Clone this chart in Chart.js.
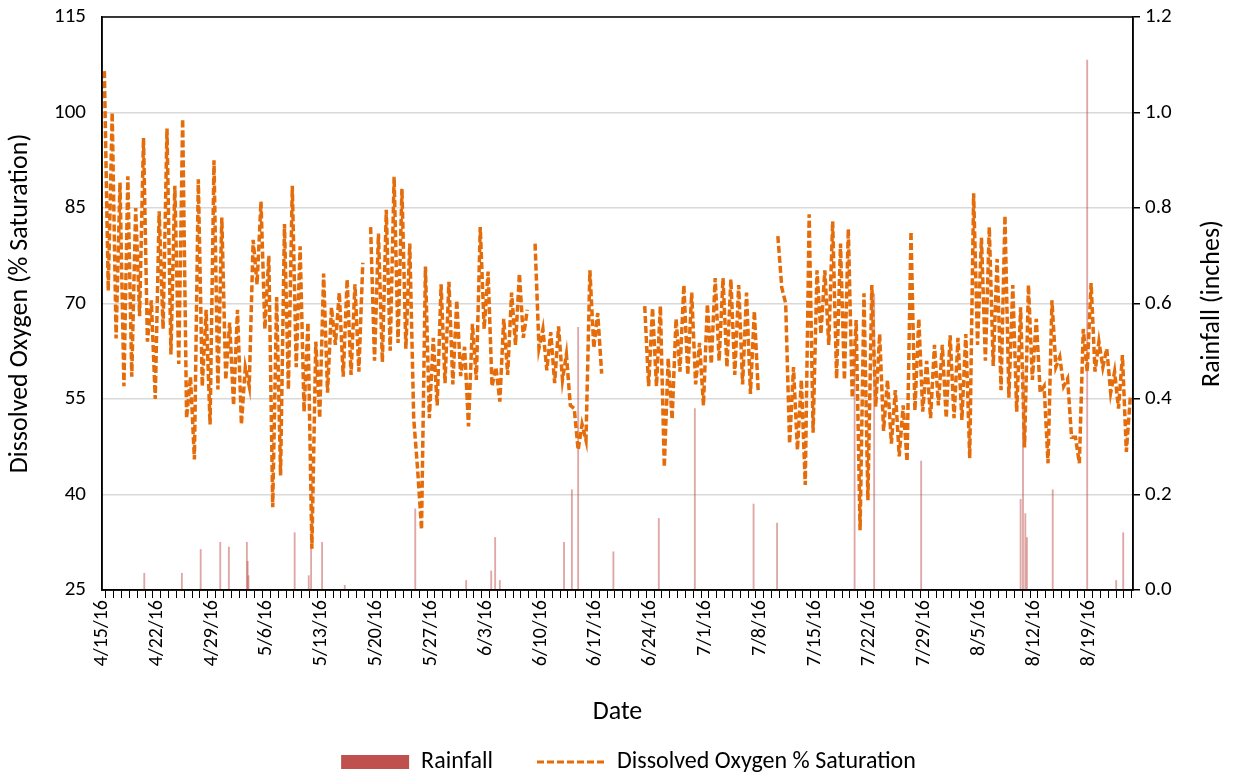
<!DOCTYPE html>
<html>
<head>
<meta charset="utf-8">
<script src="https://cdn.jsdelivr.net/npm/chart.js@4.4.0/dist/chart.umd.min.js"></script>
<style>
  html, body { margin: 0; padding: 0; background: #fff; }
  #wrap { width: 1233px; height: 778px; }
</style>
</head>
<body>
<div id="wrap"><canvas id="chart" width="1233" height="778"></canvas></div>
<script>
// Weekly date labels on the x axis (days counted from 4/15/16)
const dateLabels = ['4/15/16', '4/22/16', '4/29/16', '5/6/16', '5/13/16', '5/20/16', '5/27/16',
  '6/3/16', '6/10/16', '6/17/16', '6/24/16', '7/1/16', '7/8/16', '7/15/16', '7/22/16',
  '7/29/16', '8/5/16', '8/12/16', '8/19/16'];

// Daily afternoon high of dissolved oxygen (% saturation), one entry per day from 4/15/16
const doPeak = [
  106.5, 100, 89, 90, 85, 96, 70.5, 84.5, 97.5, 88.5,
  99, 58.5, 89.5, 69, 92.5, 83.5, 67, 69, 60, 80,
  86, 77.5, 71, 82.5, 88.5, 79, 67, 64, 74.7, 69.4,
  71.7, 73.8, 73, 76.4, 82, 81, 84.7, 89.9, 88, 79.4,
  44, 75.8, 64.6, 73, 73.4, 70.5, 63.2, 66.8, 82, 75,
  60, 67.6, 71.7, 74.7, 69, 79.4, 66, 65.5, 66.4, 62,
  53.5, 51, 75.2, 68.5, null, null, null, null, null, 69.6,
  69.3, 69.6, 61.4, 67.6, 72.9, 71.7, 63.8, 69.9, 74, 74,
  73.8, 72.9, 71.7, 68.8, null, null, 80.6, 70, 60, 58,
  84, 75.2, 75.2, 82.9, 79.4, 81.7, 67.4, 71.6, 72.9, 65.2,
  58, 56.4, 54, 81.3, 67.6, 61, 63.5, 63.5, 65, 64.6,
  65.2, 87.3, 80.3, 82, 77, 83.8, 72.9, 69.4, 72.9, 67.6,
  57, 70.5, 61.6, 58.2, 49, 66, 73.2, 64, 62.9, 59.3,
  61.9, 55.2
];

// Daily pre-dawn low of dissolved oxygen (% saturation), following each high
const doTrough = [
  72, 64.5, 57, 58.5, 68, 64, 55, 66, 62, 60.5,
  52, 45.5, 57, 51, 56.5, 58, 54, 51, 57, 73,
  66, 38, 43, 56.5, 60, 53, 31.5, 52, 56, 63.5,
  58.5, 58.8, 59.3, null, 61, 60.8, 62.6, 63.8, 62.9, 52,
  34.5, 52, 54, 57.5, 57.3, 58.6, 50.7, 58, 66, 57,
  54.6, 58.8, 63.5, 64.6, null, 63, 59.5, 57.5, 58, 54,
  47, 48.5, 63, 59, null, null, null, null, null, 57,
  57, 44.3, 51.8, 59.3, 58.8, 57.3, 54, 60.5, 61, 60,
  58.8, 57.3, 55.8, 56, null, null, 72.5, 48, 47, 41.5,
  49.7, 65.2, 63.5, 58.2, 58, 55.2, 34.4, 39.1, 53.8, 50,
  48, 46, 45.2, 53.2, 53, 52, 54, 52, 52, 51.7,
  45.7, 63.5, 61, 60.2, 56.4, 55.2, 53, 47.4, 58, 56,
  44.9, 60, 57, 49, 44.9, 59.3, 59.3, 60, 56, 53.5,
  46.7, null
];

// Rainfall events: day (from 4/15/16) and depth in inches
const rainDay = [5.4, 10.2, 12.6, 15.1, 16.2, 18.5, 18.6, 18.7, 24.6, 26.4,
  26.7, 28.1, 31.0, 40.0, 46.5, 49.7, 50.2, 50.8, 59.0, 60.0,
  60.8, 65.3, 71.1, 75.7, 83.2, 86.2, 96.1, 98.6, 104.6, 117.3,
  117.6, 117.9, 118.1, 121.4, 125.8, 129.5, 130.4];
const rainInches = [0.035, 0.035, 0.085, 0.10, 0.09, 0.10, 0.06, 0.03, 0.12, 0.03,
  0.095, 0.10, 0.01, 0.17, 0.02, 0.04, 0.11, 0.02, 0.10, 0.21,
  0.55, 0.08, 0.15, 0.38, 0.18, 0.14, 0.50, 0.62, 0.27, 0.19,
  0.46, 0.16, 0.11, 0.21, 1.11, 0.02, 0.12];

// Axis tick values
const doTicks = { min: 25, max: 115, step: 15 };
const rainTicks = { min: 0, max: 1.2, step: 0.2 };

const FONT = 'Carlito, Lato, sans-serif';
const DO_COLOR = '#E46C0A';
const RAIN_COLOR = '#C0504D';

// Each day contributes its high (early afternoon) followed by its low
const doPoints = [];
doPeak.forEach((p, d) => {
  doPoints.push({ x: d + 0.3, y: p });
  doPoints.push({ x: d + 0.8, y: doTrough[d] });
});
const rainPoints = rainDay.map((d, i) => ({ x: d, y: rainInches[i] }));

// Frame around the plot area and the two rotated axis titles
const framePlugin = {
  id: 'frame',
  afterDraw(chart) {
    const { ctx, chartArea: a } = chart;
    ctx.save();
    ctx.strokeStyle = '#000';
    ctx.lineWidth = 1.5;
    ctx.strokeRect(a.left, a.top, a.right - a.left, a.bottom - a.top);
    ctx.font = '26px ' + FONT;
    ctx.fillStyle = '#000';
    ctx.textAlign = 'center';
    ctx.textBaseline = 'middle';
    const midY = (a.top + a.bottom) / 2;
    const titles = [
      { x: 20, text: 'Dissolved Oxygen (% Saturation)' },
      { x: chart.scales.y1.right - 21, text: 'Rainfall (inches)' }
    ];
    titles.forEach(t => {
      ctx.save();
      ctx.translate(t.x, midY);
      ctx.rotate(-Math.PI / 2);
      ctx.fillText(t.text, 0, 0);
      ctx.restore();
    });
    ctx.restore();
  }
};

const PLOT_BOTTOM = 590;
const PAD_BOTTOM = -6;

function noEdgePadding(scale) {
  scale.paddingTop = 0;
  scale.paddingBottom = 0;
}

new Chart(document.getElementById('chart'), {
  type: 'line',
  data: {
    datasets: [
      {
        type: 'bar',
        label: 'Rainfall',
        data: rainPoints,
        yAxisID: 'y1',
        backgroundColor: 'rgba(192,80,77,0.5)',
        barThickness: 1.2,
        order: 1
      },
      {
        type: 'line',
        label: 'Dissolved Oxygen % Saturation',
        data: doPoints,
        yAxisID: 'y',
        borderColor: DO_COLOR,
        borderWidth: 3.5,
        borderDash: [7, 3],
        pointRadius: 0,
        tension: 0,
        spanGaps: false,
        fill: false,
        order: 0
      }
    ]
  },
  options: {
    responsive: false,
    animation: false,
    devicePixelRatio: 1,
    layout: { padding: { top: 17, left: 24, right: 0, bottom: PAD_BOTTOM } },
    plugins: {
      tooltip: { enabled: false },
      legend: {
        position: 'bottom',
        labels: {
          font: { family: FONT, size: 24 },
          color: '#000',
          usePointStyle: true,
          pointStyleWidth: 68,
          boxHeight: 14,
          padding: 44,
          generateLabels() {
            return [
              { text: 'Rainfall', fillStyle: RAIN_COLOR, strokeStyle: RAIN_COLOR,
                lineWidth: 0, pointStyle: 'rect', datasetIndex: 0, hidden: false },
              { text: 'Dissolved Oxygen % Saturation', fillStyle: DO_COLOR, strokeStyle: DO_COLOR,
                lineWidth: 3, lineDash: [7, 3], pointStyle: 'line', datasetIndex: 1, hidden: false }
            ];
          }
        }
      }
    },
    scales: {
      x: {
        type: 'linear',
        min: 0,
        max: 131.65,
        offset: false,
        afterFit(scale) {
          const lh = scale.chart.legend ? scale.chart.legend.height : 78;
          scale.height = 778 - PLOT_BOTTOM - lh - PAD_BOTTOM;
        },
        ticks: {
          stepSize: 1,
          autoSkip: false,
          includeBounds: false,
          maxRotation: 90,
          minRotation: 90,
          padding: 2,
          color: '#000',
          font: { family: FONT, size: 20 },
          callback(v) {
            if (Number.isInteger(v) && v % 7 === 0) return dateLabels[v / 7] || '';
            return '';
          }
        },
        grid: { display: true, drawOnChartArea: false, drawTicks: true, tickLength: 8, color: '#000', lineWidth: 1 },
        border: { display: true, color: '#000', width: 1.5 },
        title: { display: true, text: 'Date', color: '#000', font: { family: FONT, size: 26 }, padding: { top: 4, bottom: -22 } }
      },
      y: {
        position: 'left',
        min: doTicks.min,
        max: doTicks.max,
        afterFit(scale) { scale.width = 78; noEdgePadding(scale); },
        ticks: { stepSize: doTicks.step, color: '#000', padding: 16, font: { family: FONT, size: 21 } },
        grid: { color: '#d9d9d9', lineWidth: 1.5, drawTicks: false },
        border: { display: true, color: '#000', width: 1.5 }
      },
      y1: {
        position: 'right',
        min: rainTicks.min,
        max: rainTicks.max,
        afterFit(scale) { scale.width = 100; noEdgePadding(scale); },
        ticks: {
          stepSize: rainTicks.step, color: '#000', padding: 5, font: { family: FONT, size: 21 },
          callback(v) { return Number(v).toFixed(1); }
        },
        grid: { display: true, drawOnChartArea: false, drawTicks: true, tickLength: 7, color: '#000', lineWidth: 1.5 },
        border: { display: true, color: '#000', width: 1.5 }
      }
    }
  },
  plugins: [framePlugin]
});
</script>
</body>
</html>
